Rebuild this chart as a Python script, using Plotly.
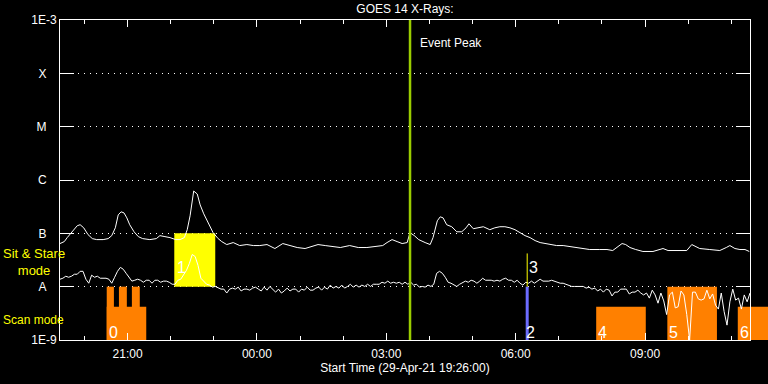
import numpy as np
import pandas as pd
import plotly.graph_objects as go

# ---------------- data ----------------
start_time = pd.Timestamp("2021-04-29 19:26:00")
span_hours = 16

# GOES 14 long channel (1-8 A): minutes since start, flux in units of 1e-8 W/m^2
long_minutes = [
    0, 6, 10, 17, 24, 28, 33, 39, 45, 51,
    60, 67, 72, 77, 81, 85, 89, 93, 97, 103,
    109, 115, 125, 134, 139, 146, 153, 161, 167, 173,
    177, 181, 184, 186, 191, 195, 200, 206, 213, 220,
    225, 232, 241, 250, 260, 269, 278, 288, 299, 310,
    320, 330, 341, 351, 359, 369, 380, 390, 403, 415,
    427, 438, 449, 455, 462, 469, 476, 483, 487, 493,
    499, 508, 515, 519, 525, 529, 533, 538, 545, 552,
    559, 565, 569, 575, 582, 589, 598, 605, 612, 619,
    626, 633, 640, 647, 654, 661, 668, 682, 691, 700,
    710, 718, 728, 737, 751, 761, 769, 776, 782, 787,
    793, 801, 811, 825, 835, 839, 846, 853, 863, 872,
    879, 885, 890, 904, 918, 927, 932, 939, 946, 953,
    959]
long_flux_e8 = [
    6.43, 7.0, 8.31, 10.7, 13.9, 14.5, 12.7, 9.45, 7.96, 7.63,
    7.63, 7.96, 9.05, 12.7, 22.2, 25.3, 24.2, 19.5, 14.5, 10.7,
    8.67, 7.96, 7.63, 7.96, 9.05, 8.67, 8.31, 7.63, 7.63, 8.31,
    11.7, 21.3, 40.4, 62.1, 54.6, 34.1, 23.2, 15.8, 10.3, 7.96,
    7.0, 6.16, 6.71, 5.9, 6.16, 5.9, 5.9, 6.16, 5.19, 6.43,
    5.9, 5.42, 5.19, 5.65, 6.16, 5.9, 5.65, 5.42, 5.9, 5.42,
    5.42, 5.65, 5.9, 6.71, 7.63, 7.0, 6.43, 6.71, 10.3, 9.05,
    7.63, 6.71, 6.16, 8.31, 17.2, 20.4, 19.5, 14.5, 13.3, 10.7,
    10.7, 12.7, 15.1, 12.2, 12.7, 13.3, 11.7, 12.7, 13.3, 13.3,
    12.7, 11.7, 10.3, 9.05, 8.31, 7.31, 6.71, 6.16, 5.9, 5.9,
    5.65, 5.42, 5.19, 4.97, 4.97, 4.97, 4.76, 5.65, 6.43, 6.16,
    5.42, 4.97, 4.57, 4.57, 4.97, 5.19, 4.76, 4.76, 4.76, 4.76,
    6.16, 5.65, 5.19, 4.97, 4.76, 5.42, 5.9, 5.19, 4.97, 4.97,
    4.57]

# GOES 14 short channel (0.5-4 A): one sample every 4 minutes, flux in 1e-8 W/m^2
short_cadence_min = 4
short_flux_e8 = [
    1.38, 1.44, 1.57, 1.50, 1.57, 1.71, 1.71, 1.94, 1.94, 1.38,
    1.16, 1.64, 1.50, 1.57, 1.44, 1.44, 1.44, 1.38, 1.16, 1.50,
    1.94, 2.30, 2.12, 1.78, 1.50, 1.27, 1.32, 1.38, 1.32, 1.21,
    1.32, 1.32, 1.16, 1.32, 1.32, 1.21, 1.27, 1.27, 1.21, 1.11,
    1.11, 1.32, 1.38, 1.64, 2.03, 2.73, 4.01, 3.68, 2.51, 1.44,
    1.27, 1.11, 1.07, 0.98, 1.01, 0.94, 0.90, 0.90, 0.76, 0.90,
    0.94, 0.90, 0.98, 0.83, 0.90, 0.90, 0.86, 0.94, 0.98, 0.90,
    0.83, 0.98, 0.86, 1.01, 0.90, 0.79, 0.90, 0.76, 0.83, 0.94,
    0.83, 0.90, 0.90, 0.79, 0.90, 0.86, 0.98, 0.86, 0.86, 0.94,
    0.98, 0.86, 0.98, 0.90, 1.07, 0.94, 1.01, 0.94, 1.07, 0.94,
    1.01, 1.11, 0.98, 1.07, 0.98, 1.07, 1.01, 1.11, 1.01, 1.11,
    1.11, 1.11, 1.21, 1.16, 1.27, 1.16, 1.21, 1.16, 1.21, 1.11,
    1.21, 1.11, 1.21, 1.07, 1.11, 0.98, 1.01, 0.98, 1.07, 1.01,
    1.11, 1.78, 1.94, 1.78, 1.50, 1.21, 1.16, 1.07, 1.01, 1.11,
    1.21, 1.27, 1.21, 1.32, 1.27, 1.16, 1.27, 1.44, 1.32, 1.32,
    1.32, 1.27, 1.32, 1.27, 1.38, 1.44, 1.32, 1.32, 1.21, 1.32,
    1.16, 1.07, 1.21, 1.16, 1.27, 1.16, 1.27, 1.38, 1.27, 1.27,
    1.27, 1.32, 1.27, 1.21, 1.16, 1.16, 1.11, 1.07, 1.01, 1.01,
    1.01, 0.98, 1.01, 0.94, 0.98, 0.90, 0.94, 0.83, 0.90, 0.79,
    0.90, 0.86, 0.67, 0.79, 0.79, 0.90, 0.90, 0.90, 0.73, 0.79,
    0.79, 0.86, 0.76, 0.70, 0.76, 0.61, 0.86, 0.70, 0.49, 0.76,
    0.54, 0.30, 0.70, 0.79, 0.40, 0.42, 0.83, 0.70, 0.30, 0.10,
    0.79, 0.79, 0.59, 0.56, 0.59, 0.86, 0.59, 0.73, 0.45, 0.38,
    0.76, 0.34, 0.19, 0.52, 0.90, 0.56, 0.61, 0.38, 0.70, 0.52,
    0.76]

level_values = [1e-9, 1e-8, 1e-7, 1e-6, 1e-5, 1e-4, 1e-3]
level_labels = ["1E-9", "A", "B", "C", "M", "X", "1E-3"]

# Scan-mode observation blocks (minutes since start, upper flux level)
scan_start_min = [65, 65, 82, 100, 746, 845, 943]
scan_end_min = [120, 75, 93, 111, 815, 914, 990]
scan_top_flux = [4.2e-9, 1e-8, 1e-8, 1e-8, 4.2e-9, 1e-8, 4.2e-9]
scan_label_min = [65, 746, 845, 943]
scan_label_text = ["0", "4", "5", "6"]

# Sit & stare observation block
stare_start_min = [159]
stare_end_min = [216]
stare_label_text = ["1"]

# Single pointing markers
marker_min = 650
marker_scan_label = "2"
marker_stare_label = "3"
marker_stare_top = 4.2e-8

event_peak_min = 487

# ---------------- styles ----------------
ORANGE = "#ff8000"
YELLOW = "#ffff00"
GREEN = "#9acd00"
BLUE = "#6c6cff"
FONT = "Liberation Sans"


def t(m):
    return start_time + pd.Timedelta(minutes=m)


end_time = t(span_hours * 60)
span_min = span_hours * 60

long_times = [t(m) for m in long_minutes]
short_times = [t(i * short_cadence_min) for i in range(len(short_flux_e8))]

fig = go.Figure()
fig.add_trace(go.Scatter(x=long_times, y=np.array(long_flux_e8) * 1e-8, mode="lines",
                         line=dict(color="white", width=1), showlegend=False))
fig.add_trace(go.Scatter(x=short_times, y=np.array(short_flux_e8) * 1e-8, mode="lines",
                         line=dict(color="white", width=1), showlegend=False))

shapes = []
for s, e, top in zip(scan_start_min, scan_end_min, scan_top_flux):
    if e <= span_min:
        shapes.append(dict(type="rect", xref="x", yref="y", x0=t(s), x1=t(e), y0=1e-9, y1=top,
                           fillcolor=ORANGE, line_width=0, layer="between"))
    else:
        shapes.append(dict(type="rect", xref="paper", yref="y", x0=s / span_min, x1=e / span_min,
                           y0=1e-9, y1=top, fillcolor=ORANGE, line_width=0, layer="between"))
for s, e in zip(stare_start_min, stare_end_min):
    shapes.append(dict(type="rect", xref="x", yref="y", x0=t(s), x1=t(e), y0=1e-8, y1=1e-7,
                       fillcolor=YELLOW, line_width=0, layer="between"))
shapes.append(dict(type="line", xref="x", yref="paper", x0=t(event_peak_min), x1=t(event_peak_min),
                   y0=0, y1=1, line=dict(color=GREEN, width=2.5), layer="above"))
shapes.append(dict(type="line", xref="x", yref="y", x0=t(marker_min), x1=t(marker_min),
                   y0=1e-9, y1=1e-8, line=dict(color=BLUE, width=3), layer="above"))
shapes.append(dict(type="line", xref="x", yref="y", x0=t(marker_min), x1=t(marker_min),
                   y0=1e-8, y1=marker_stare_top, line=dict(color=YELLOW, width=1), layer="above"))

annotations = []
digit_font = dict(family=FONT, size=16, color="white")
for m, txt in zip(scan_label_min, scan_label_text):
    annotations.append(dict(x=t(m), y=-9, xref="x", yref="y", text=txt, showarrow=False,
                            xanchor="left", yanchor="bottom", yshift=-3, font=digit_font))
for m, txt in zip(stare_start_min, stare_label_text):
    annotations.append(dict(x=t(m), y=-8, xref="x", yref="y", text=txt, showarrow=False,
                            xanchor="left", yanchor="bottom", xshift=1, yshift=9, font=digit_font))
annotations.append(dict(x=t(marker_min), y=-9, xref="x", yref="y", text=marker_scan_label,
                        showarrow=False, xanchor="left", yanchor="bottom", xshift=-3, yshift=-3,
                        font=digit_font))
annotations.append(dict(x=t(marker_min), y=-8, xref="x", yref="y", text=marker_stare_label,
                        showarrow=False, xanchor="left", yanchor="bottom", xshift=0, yshift=9,
                        font=digit_font))
annotations.append(dict(x=t(event_peak_min), y=0.929, xref="x", yref="paper", text="Event Peak",
                        showarrow=False, xanchor="left", yanchor="middle", xshift=8,
                        font=dict(family=FONT, size=12, color="white")))
annotations.append(dict(x=-0.0377, y=0.243, xref="paper", yref="paper",
                        text="Sit &amp; Stare<br>mode", align="center",
                        showarrow=False, xanchor="center", yanchor="middle",
                        font=dict(family=FONT, size=13, color=YELLOW)))
annotations.append(dict(x=-0.0855, y=0.062, xref="paper", yref="paper", text="Scan mode",
                        showarrow=False, xanchor="left", yanchor="middle",
                        font=dict(family=FONT, size=12, color=YELLOW)))

ticktext = [lab if len(lab) > 1 else lab + "\u00a0\u00a0\u00a0" for lab in level_labels]

fig.update_layout(
    width=768, height=384,
    margin=dict(l=60, r=18, t=20, b=41),
    paper_bgcolor="black", plot_bgcolor="black",
    font=dict(family=FONT, size=12, color="white"),
    title=dict(text="GOES 14 X-Rays:", x=0.5, xref="paper", xanchor="center",
               y=1 - 9 / 384, yref="container", yanchor="middle",
               font=dict(family=FONT, size=12, color="white")),
    shapes=shapes, annotations=annotations,
    xaxis=dict(type="date", range=[start_time, end_time], tickformat="%H:%M",
               tick0="2021-04-29 21:00:00", dtick=3 * 3600 * 1000,
               ticks="inside", ticklen=7, tickcolor="white", tickwidth=1,
               showline=True, linecolor="white", linewidth=1, mirror="ticks",
               showgrid=False, zeroline=False, ticklabelstandoff=3,
               minor=dict(tick0="2021-04-29 20:00:00", dtick=3600 * 1000, ticks="inside",
                          ticklen=4, tickcolor="white", showgrid=False),
               tickfont=dict(family=FONT, size=12, color="white"),
               title=dict(text="Start Time (29-Apr-21 19:26:00)", standoff=2,
                          font=dict(family=FONT, size=12, color="white"))),
    yaxis=dict(type="log", range=[-9, -3], tickvals=level_values, ticktext=ticktext,
               ticks="inside", ticklen=14, tickcolor="white", tickwidth=1,
               showline=True, linecolor="white", linewidth=1, mirror="ticks",
               showgrid=True, gridcolor="white", gridwidth=1, griddash="1px,5px",
               zeroline=False, tickfont=dict(family=FONT, size=12, color="white")),
)

fig.write_html("out.html")
